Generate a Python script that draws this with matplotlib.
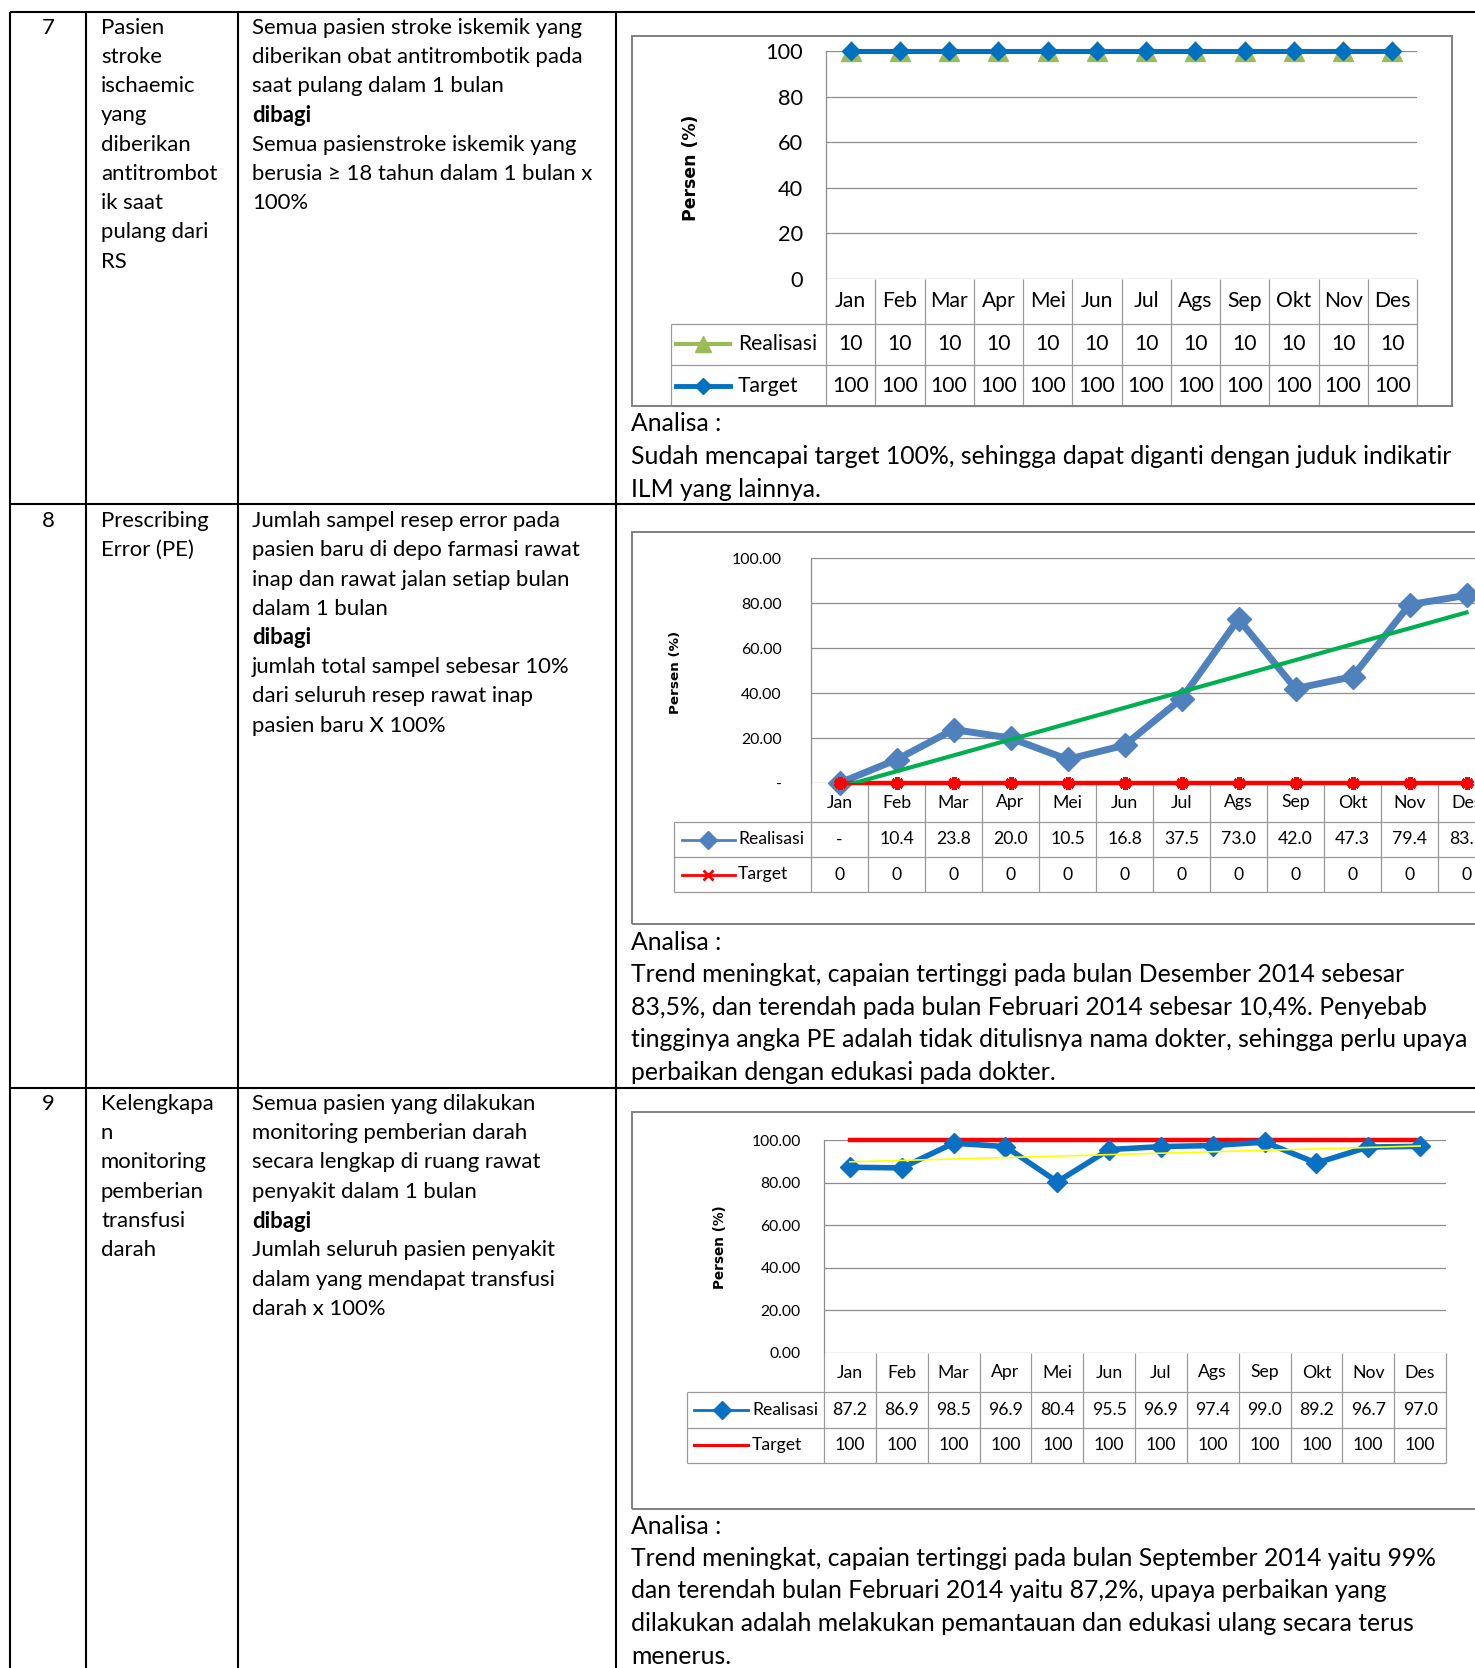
import numpy as np
import matplotlib
matplotlib.use("Agg")
import matplotlib.pyplot as plt
from matplotlib.lines import Line2D
from matplotlib.patches import Rectangle
import matplotlib.transforms as mtransforms

# ------------------------------------------------------------------ data
months = ["Jan", "Feb", "Mar", "Apr", "Mei", "Jun", "Jul", "Ags", "Sep", "Okt", "Nov", "Des"]

# indicator 7 : stroke ischaemic antithrombotic
real7 = [100, 100, 100, 100, 100, 100, 100, 100, 100, 100, 100, 100]
real7_cells = ["10", "10", "10", "10", "10", "10", "10", "10", "10", "10", "10", "10"]
target7 = [100, 100, 100, 100, 100, 100, 100, 100, 100, 100, 100, 100]

# indicator 8 : prescribing error
real8 = [0, 10.4, 23.8, 20.0, 10.5, 16.8, 37.5, 73.0, 42.0, 47.3, 79.4, 83.5]
target8 = [0, 0, 0, 0, 0, 0, 0, 0, 0, 0, 0, 0]

# indicator 9 : blood transfusion monitoring
real9 = [87.2, 86.9, 98.5, 96.9, 80.4, 95.5, 96.9, 97.4, 99.0, 89.2, 96.7, 97.0]
target9 = [100, 100, 100, 100, 100, 100, 100, 100, 100, 100, 100, 100]

yticks = [0, 20, 40, 60, 80, 100]
ytick7 = ["0", "20", "40", "60", "80", "100"]
ytick8 = ["-", "20.00", "40.00", "60.00", "80.00", "100.00"]
ytick9 = ["0.00", "20.00", "40.00", "60.00", "80.00", "100.00"]

no_col = ["7", "8", "9"]
name_col = [
    ["Pasien", "stroke", "ischaemic", "yang", "diberikan", "antitrombot", "ik saat", "pulang dari", "RS"],
    ["Prescribing", "Error (PE)"],
    ["Kelengkapa", "n", "monitoring", "pemberian", "transfusi", "darah"],
]
def_col = [
    ["Semua pasien stroke iskemik yang", "diberikan obat antitrombotik pada", "saat pulang dalam 1 bulan",
     "dibagi", "Semua pasienstroke iskemik yang", "berusia \u2265 18 tahun dalam 1 bulan x", "100%"],
    ["Jumlah sampel resep error pada", "pasien baru di depo farmasi rawat", "inap dan rawat jalan setiap bulan",
     "dalam 1 bulan", "dibagi", "jumlah total sampel sebesar 10%", "dari seluruh resep rawat inap",
     "pasien baru X 100%"],
    ["Semua pasien yang dilakukan", "monitoring pemberian darah", "secara lengkap di ruang rawat",
     "penyakit dalam 1 bulan", "dibagi", "Jumlah seluruh pasien penyakit", "dalam yang mendapat transfusi",
     "darah x 100%"],
]
analisa = [
    ["Analisa :", "Sudah mencapai target 100%, sehingga dapat diganti dengan juduk indikatir",
     "ILM yang lainnya."],
    ["Analisa :", "Trend meningkat, capaian tertinggi pada bulan Desember 2014 sebesar",
     "83,5%, dan terendah pada bulan Februari 2014 sebesar 10,4%. Penyebab",
     "tingginya angka PE adalah tidak ditulisnya nama dokter, sehingga perlu upaya",
     "perbaikan dengan edukasi pada dokter."],
    ["Analisa :", "Trend meningkat, capaian tertinggi pada bulan September 2014 yaitu 99%",
     "dan terendah bulan Februari 2014 yaitu 87,2%, upaya perbaikan yang",
     "dilakukan adalah melakukan pemantauan dan edukasi ulang secara terus",
     "menerus."],
]

# ------------------------------------------------------------------ figure
W, H = 1475, 1668
fig = plt.figure(figsize=(W / 100, H / 100), dpi=100)
fig.patch.set_facecolor("white")
renderer = fig.canvas.get_renderer()

BODY = ["Lato", "DejaVu Sans"]
CH = ["Lato", "DejaVu Sans"]
YL = ["DejaVu Sans"]


def fx(x):
    return x / W


def fy(y):
    return 1 - y / H


def fit(text, width, family, weight="normal"):
    t = fig.text(0, 0, text, fontsize=20, family=family, fontweight=weight)
    w = t.get_window_extent(renderer=renderer).width
    t.remove()
    return 20 * width / w


def fline(xs, ys, **kw):
    fig.add_artist(Line2D([fx(x) for x in xs], [fy(y) for y in ys],
                          transform=fig.transFigure, **kw))


body_fs = fit("Semua pasien stroke iskemik yang", 332, BODY)
ana_fs = fit("Sudah mencapai target 100%, sehingga dapat diganti dengan juduk indikatir", 821, BODY)

# ------------------------------------------------------------------ document table
TL = dict(color="black", lw=1.5, solid_capstyle="butt")
for x in [10, 86, 238, 616]:
    fline([x, x], [12, H + 5], **TL)
for y in [12, 504, 1088]:
    fline([10, W + 5], [y, y], **TL)

row_first = [27.7, 521, 1104]
LS = 29.25
for r in range(3):
    fig.text(fx(48), fy(row_first[r]), no_col[r], ha="center", va="center",
             fontsize=body_fs, family=BODY)
    for i, s in enumerate(name_col[r]):
        fig.text(fx(101), fy(row_first[r] + i * LS), s, ha="left", va="center",
                 fontsize=body_fs, family=BODY)
    for i, s in enumerate(def_col[r]):
        fig.text(fx(252), fy(row_first[r] + i * LS), s, ha="left", va="center",
                 fontsize=body_fs, family=BODY,
                 fontweight="bold" if s == "dibagi" else "normal")

ana_first = [423.2, 942.2, 1526.0]
ana_ls = [33.0, 32.5, 32.5]
for r in range(3):
    for i, s in enumerate(analisa[r]):
        fig.text(fx(631), fy(ana_first[r] + i * ana_ls[r]), s, ha="left", va="center",
                 fontsize=ana_fs, family=BODY)


# ------------------------------------------------------------------ charts
def chart(L, R, Y100, Y0, rows, leg_left, tick_right, ylab_xy, ylab_w, frame,
          ticklabels, tick_w, cell_w, series, cell_rows, legend, trend=None):
    ax = fig.add_axes([fx(L), fy(Y0), (R - L) / W, (Y0 - Y100) / H])
    ax.patch.set_alpha(0)
    ax.set_xlim(-0.5, 11.5)
    ax.set_ylim(0, 100)
    ax.set_xticks([])
    ax.set_yticks(yticks)
    tfs = fit(ticklabels[-1], tick_w, CH)
    ax.set_yticklabels(ticklabels, fontsize=tfs, family=CH)
    ax.tick_params(axis="y", length=0, pad=(L - tick_right) * 0.72)
    for s in ["top", "right", "bottom"]:
        ax.spines[s].set_visible(False)
    ax.spines["left"].set_color("#8C8C8C")
    ax.spines["left"].set_linewidth(0.9)
    ax.yaxis.grid(True, color="#8C8C8C", lw=0.9)
    ax.set_axisbelow(True)

    ph = Y0 - Y100
    pw = R - L

    def ay(y):
        return (Y0 - y) / ph

    def axx(x):
        return (x - L) / pw

    trans = mtransforms.blended_transform_factory(ax.transData, ax.transAxes)
    gc = dict(color="#9A9A9A", lw=0.9, clip_on=False, solid_capstyle="butt")
    bottom = rows[-1]
    for i in range(13):
        ax.plot([i - 0.5, i - 0.5], [0, ay(bottom)], transform=trans, **gc)
    for y in rows:
        ax.plot([axx(leg_left), 1], [ay(y), ay(y)], transform=ax.transAxes, **gc)
    ax.plot([axx(leg_left), axx(leg_left)], [ay(rows[0]), ay(bottom)], transform=ax.transAxes, **gc)

    cfs = fit("Realisasi", cell_w, CH)
    mid_head = (Y0 + rows[0]) / 2
    for i, m in enumerate(months):
        ax.text(i, ay(mid_head), m, transform=trans, ha="center", va="center",
                fontsize=cfs, family=CH)
    mids = [(rows[0] + rows[1]) / 2, (rows[1] + rows[2]) / 2]
    for k, cells in enumerate(cell_rows):
        for i, c in enumerate(cells):
            ax.text(i, ay(mids[k]), c, transform=trans, ha="center", va="center",
                    fontsize=cfs, family=CH)

    x = np.arange(12)
    for (vals, kw) in series:
        ax.plot(x, vals, **kw)
    if trend is not None:
        vals, kw = trend
        p = np.polyfit(x, vals, 1)
        ax.plot(x, np.polyval(p, x), **kw)

    # legend column
    (s0, s1, sm, lx), entries = legend
    for k, (label, lkw, mkw) in enumerate(entries):
        y = ay(mids[k])
        ax.plot([axx(s0), axx(s1)], [y, y], transform=ax.transAxes, clip_on=False, **lkw)
        if mkw is not None:
            ax.plot([axx(sm)], [y], transform=ax.transAxes, clip_on=False, **mkw)
        ax.text(axx(lx), y, label, transform=ax.transAxes, ha="left", va="center",
                fontsize=cfs, family=CH)

    # y label
    yfs = fit("Persen (%)", ylab_w, YL, "bold")
    fig.text(fx(ylab_xy[0]), fy(ylab_xy[1]), "Persen (%)", rotation=90, ha="center",
             va="center", fontsize=yfs, family=YL, fontweight="bold")

    # chart frame
    x0, y0, x1, y1 = frame
    fig.add_artist(Rectangle((fx(x0), fy(y1)), (x1 - x0) / W, (y1 - y0) / H,
                             transform=fig.transFigure, fill=False,
                             edgecolor="#808080", lw=1.4))
    return ax


# chart 7
BLUE1 = "#0070C0"
GREEN1 = "#9BBB59"
chart(826, 1417, 51, 279, [323.7, 365, 406], 671, 803, (691, 168), 106,
      (632, 35.7, 1451.5, 406), ytick7, 38, 79,
      [(real7, dict(color=GREEN1, lw=3, marker="^", ms=15, zorder=3, clip_on=False)),
       (target7, dict(color=BLUE1, lw=3.6, marker="D", ms=9, zorder=4, clip_on=False))],
      [real7_cells, [str(v) for v in target7]],
      ((676, 730, 703, 738),
       [("Realisasi", dict(color=GREEN1, lw=3), dict(marker="^", color=GREEN1, ms=12)),
        ("Target", dict(color=BLUE1, lw=3.5), dict(marker="D", color=BLUE1, ms=8))]))

# chart 8
BLUE2 = "#4F81BD"
RED = "#FF0000"
chart(811, 811 + 12 * 57, 558.3, 783, [822, 857, 892], 674, 781.6, (675, 672), 83,
      (632, 532.3, 1495, 924), ytick8, 50, 66,
      [(real8, dict(color=BLUE2, lw=5, marker="D", ms=12, zorder=3, clip_on=False)),
       (target8, dict(color=RED, lw=3.2, marker=(6, 2, 0), ms=9, mew=3.5, zorder=4,
                      clip_on=False))],
      [["-" if v == 0 else f"{v:.1f}" for v in real8], [str(v) for v in target8]],
      ((682, 735, 708, 738),
       [("Realisasi", dict(color=BLUE2, lw=2), dict(marker="D", color=BLUE2, ms=9)),
        ("Target", dict(color=RED, lw=2), dict(marker="x", color=RED, ms=7, mew=2))]),
      trend=(real8, dict(color="#00B050", lw=3, zorder=5)))

# chart 9
BLUE3 = "#0A70C4"
chart(824, 1446, 1140, 1353, [1392, 1428, 1462.5], 687, 800.7, (720, 1247), 84,
      (632, 1112.3, 1495, 1508.7), ytick9, 49, 66,
      [(target9, dict(color=RED, lw=3.2, zorder=3, clip_on=False)),
       (real9, dict(color=BLUE3, lw=4, marker="D", ms=10, zorder=4, clip_on=False))],
      [[f"{v:.1f}" for v in real9], [str(v) for v in target9]],
      ((694, 748, 722, 752),
       [("Realisasi", dict(color=BLUE3, lw=2), dict(marker="D", color=BLUE3, ms=9)),
        ("Target", dict(color=RED, lw=2.2), None)]),
      trend=(real9, dict(color="#FFFF00", lw=1.2, zorder=5)))

fig.savefig("out.png", dpi=100, facecolor="white")
